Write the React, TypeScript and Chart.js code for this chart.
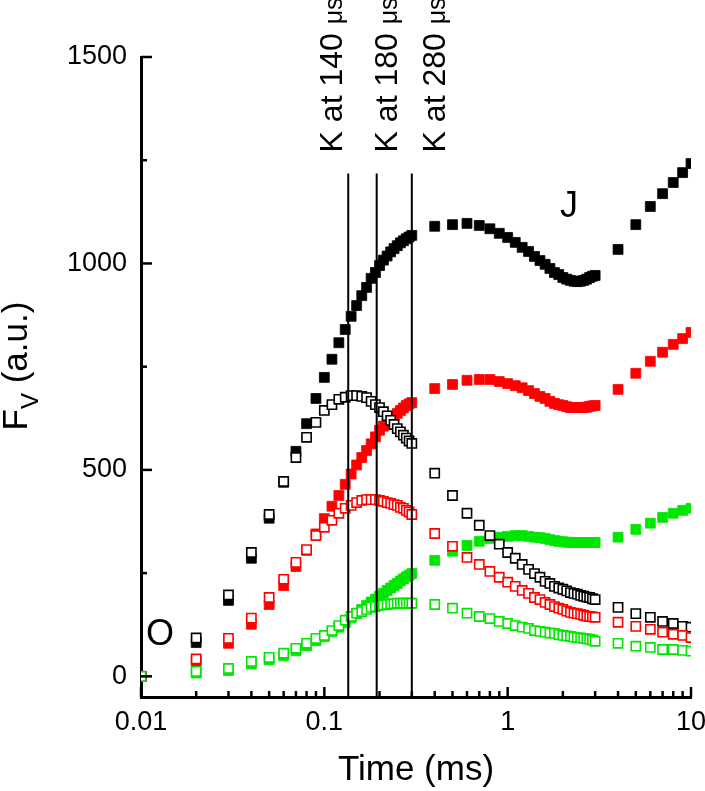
import React, { useEffect, useRef } from 'react';
import { Chart, registerables } from 'chart.js';

Chart.register(...registerables);

const FONT = '"Liberation Sans", Arial, Helvetica, sans-serif';

// Time points (ms)
const timeMs = [
  0.01, 0.02, 0.03, 0.04, 0.05, 0.06, 0.07, 0.08, 0.09, 0.10,
  0.11, 0.12, 0.13, 0.14, 0.15, 0.16, 0.17, 0.18, 0.19, 0.20,
  0.21, 0.22, 0.23, 0.24, 0.25, 0.26, 0.27, 0.28, 0.29, 0.30,
  0.4, 0.5, 0.6, 0.7, 0.8, 0.9, 1.0, 1.1, 1.2, 1.3,
  1.4, 1.5, 1.6, 1.7, 1.8, 1.9, 2.0, 2.1, 2.2, 2.3,
  2.4, 2.5, 2.6, 2.7, 2.8, 2.9, 3.0,
  4, 5, 6, 7, 8, 9, 10,
];

// Black filled squares
const blackFilled = [
  0, 82, 184, 286, 383, 470, 545, 612, 673, 724,
  768, 808, 840, 872, 898, 922, 942, 964, 978, 995,
  1008, 1018, 1028, 1036, 1043, 1050, 1055, 1060, 1064, 1068,
  1090, 1094, 1097, 1092, 1084, 1073, 1063, 1051, 1039, 1029,
  1017, 1007, 998, 988, 978, 973, 966, 962, 959, 957,
  956, 957, 959, 962, 966, 969, 971,
  1034, 1094, 1138, 1169, 1196, 1220, 1242,
];

// Black open squares
const blackOpen = [
  0, 93, 197, 300, 392, 472, 530, 579, 615, 644,
  658, 671, 676, 680, 680, 678, 675, 666, 658, 651,
  641, 631, 620, 610, 600, 592, 584, 577, 570, 564,
  492, 438, 395, 366, 341, 320, 300, 286, 271, 259,
  249, 240, 230, 225, 218, 214, 211, 207, 203, 201,
  199, 196, 194, 192, 191, 188, 186,
  167, 152, 143, 133, 128, 121, 119,
];

// Red filled squares
const redFilled = [
  0, 36, 80, 126, 174, 220, 266, 305, 345, 382,
  412, 438, 465, 490, 512, 530, 547, 563, 580, 596,
  606, 615, 623, 630, 637, 644, 650, 656, 660, 663,
  697, 707, 717, 719, 719, 714, 709, 704, 699, 692,
  685, 678, 673, 666, 661, 658, 656, 653, 651, 651,
  651, 651, 651, 652, 654, 655, 656,
  695, 734, 763, 785, 804, 818, 833,
];

// Red open squares
const redOpen = [
  0, 42, 92, 141, 191, 235, 276, 307, 341, 361,
  378, 395, 407, 414, 421, 426, 428, 428, 428, 426,
  424, 421, 419, 416, 414, 409, 407, 402, 398, 392,
  346, 315, 288, 271, 254, 240, 228, 218, 208, 201,
  191, 186, 179, 174, 169, 165, 162, 158, 155, 153,
  152, 150, 148, 146, 145, 144, 143,
  131, 121, 114, 107, 102, 99, 94,
];

// Green filled squares
const greenFilled = [
  0, 8, 14, 30, 40, 50, 62, 74, 86, 96,
  108, 119, 130, 142, 152, 162, 172, 180, 187, 194,
  201, 208, 214, 220, 225, 231, 236, 241, 245, 249,
  281, 303, 317, 327, 334, 337, 339, 341, 341, 339,
  337, 336, 334, 331, 329, 327, 326, 325, 324, 324,
  324, 324, 324, 324, 324, 324, 324,
  337, 356, 371, 385, 395, 402, 407,
];

// Green open squares
const greenOpen = [
  0, 12, 19, 36, 46, 56, 68, 80, 92, 99,
  111, 123, 136, 145, 153, 157, 162, 167, 169, 172,
  173, 174, 175, 176, 177, 177, 177, 177, 177, 177,
  174, 165, 153, 145, 140, 133, 128, 123, 119, 116,
  111, 109, 107, 105, 104, 101, 99, 98, 97, 95,
  94, 93, 92, 91, 90, 88, 85,
  80, 73, 70, 65, 65, 63, 61,
];

const xTickValues = [0.01, 0.1, 1, 10];
const xDecades = [0.01, 0.1, 1];
const yTickValues = [0, 500, 1000, 1500];
const yMinorValues = [250, 750, 1250];
const yMin = -50;
const yMax = 1500;

// K-step marker lines
const kLineTimes = [0.135, 0.193, 0.3];
const kLineTop = 1218;
const kLabelTexts = ['K at 140 ', 'K at 180 ', 'K at 280 '];
const kLabelUnit = 'μs';
const kLabelX = [0.125, 0.249, 0.456];
const kLabelY = 1269;

// Phase letters
const phaseLabels = [
  { text: 'O', x: 0.0127, y: 100 },
  { text: 'J', x: 2.16, y: 1137 },
];

const annotationPlugin = {
  id: 'ojipAnnotations',
  afterDraw(chart: any) {
    const { ctx, chartArea } = chart;
    const xs = chart.scales.x;
    const ys = chart.scales.y;
    ctx.save();
    ctx.strokeStyle = '#000';
    ctx.lineCap = 'butt';
    ctx.lineWidth = 2.5;
    const seg = (x1: number, y1: number, x2: number, y2: number) => {
      ctx.beginPath();
      ctx.moveTo(x1, y1);
      ctx.lineTo(x2, y2);
      ctx.stroke();
    };
    // y ticks (inward)
    for (const v of yTickValues) {
      const py = ys.getPixelForValue(v);
      seg(chartArea.left, py, chartArea.left + 11, py);
    }
    for (const v of yMinorValues) {
      const py = ys.getPixelForValue(v);
      seg(chartArea.left, py, chartArea.left + 6, py);
    }
    // x ticks (inward)
    for (const v of xTickValues) {
      const px = xs.getPixelForValue(v);
      seg(px, chartArea.bottom, px, chartArea.bottom - 10);
    }
    for (const d of xDecades) {
      for (let m = 2; m <= 9; m++) {
        const px = xs.getPixelForValue(m * d);
        seg(px, chartArea.bottom, px, chartArea.bottom - 6);
      }
    }

    ctx.fillStyle = '#000';
    ctx.textAlign = 'left';
    ctx.textBaseline = 'alphabetic';

    // y axis title F_V (a.u.)
    {
      const big = `35px ${FONT}`;
      const small = `24px ${FONT}`;
      ctx.font = big;
      const wF = ctx.measureText('F').width;
      const wRest = ctx.measureText(' (a.u.)').width;
      ctx.font = small;
      const wV = ctx.measureText('V').width;
      const total = wF + wV + wRest;
      const cy = (chartArea.top + chartArea.bottom) / 2 - 11;
      ctx.save();
      ctx.translate(27, cy);
      ctx.rotate(-Math.PI / 2);
      let sx = -total / 2;
      ctx.font = big;
      ctx.fillText('F', sx, 0);
      sx += wF;
      ctx.font = small;
      ctx.fillText('V', sx, 11);
      sx += wV;
      ctx.font = big;
      ctx.fillText(' (a.u.)', sx, 0);
      ctx.restore();
    }

    // K labels
    kLabelTexts.forEach((txt, i) => {
      const px = xs.getPixelForValue(kLabelX[i]);
      const py = ys.getPixelForValue(kLabelY);
      ctx.save();
      ctx.translate(px, py);
      ctx.rotate(-Math.PI / 2);
      ctx.font = `32px ${FONT}`;
      ctx.fillText(txt, 0, 0);
      const w = ctx.measureText(txt).width;
      ctx.font = `25px ${FONT}`;
      ctx.fillText(kLabelUnit, w, 0);
      ctx.restore();
    });

    // O / J labels
    ctx.textAlign = 'center';
    ctx.textBaseline = 'middle';
    ctx.font = `36px ${FONT}`;
    for (const p of phaseLabels) {
      ctx.fillText(p.text, xs.getPixelForValue(p.x), ys.getPixelForValue(p.y));
    }
    ctx.restore();
  },
};

export default function App() {
  const ref = useRef<HTMLCanvasElement>(null);

  useEffect(() => {
    const canvas = ref.current;
    if (!canvas) return;
    const pts = (vals: number[]) => timeMs.map((t, i) => ({ x: t, y: vals[i] }));
    const filled = (label: string, vals: number[], color: string, order: number) => ({
      label,
      data: pts(vals),
      showLine: false,
      pointStyle: 'rect',
      pointRadius: 7,
      pointBackgroundColor: color,
      pointBorderColor: color,
      pointBorderWidth: 0.8,
      backgroundColor: color,
      borderColor: color,
      order,
    });
    const open = (label: string, vals: number[], color: string, order: number) => ({
      label,
      data: pts(vals),
      showLine: false,
      pointStyle: 'rect',
      pointRadius: 6.5,
      pointBackgroundColor: '#ffffff',
      pointBorderColor: color,
      pointBorderWidth: 1.6,
      backgroundColor: '#ffffff',
      borderColor: color,
      order,
    });
    const kLines = kLineTimes.map((t, i) => ({
      label: 'K line ' + i,
      data: [
        { x: t, y: yMin },
        { x: t, y: kLineTop },
      ],
      showLine: true,
      borderColor: '#000',
      borderWidth: 2,
      pointRadius: 0,
      fill: false,
      order: 0,
    }));

    const chart = new Chart(canvas, {
      type: 'scatter',
      data: {
        datasets: [
          ...kLines,
          open('green open', greenOpen, '#00e600', 1),
          open('red open', redOpen, '#ff0000', 2),
          open('black open', blackOpen, '#000000', 3),
          filled('green filled', greenFilled, '#00e600', 4),
          filled('red filled', redFilled, '#ff0000', 5),
          filled('black filled', blackFilled, '#000000', 6),
        ] as any,
      },
      options: {
        responsive: false,
        animation: false,
        events: [],
        layout: { padding: { left: 0, right: 14, top: 57, bottom: 0 } },
        plugins: {
          legend: { display: false },
          tooltip: { enabled: false },
        },
        scales: {
          x: {
            type: 'logarithmic',
            position: 'bottom',
            min: 0.01,
            max: 10,
            grid: { display: false },
            border: { display: true, color: '#000', width: 3 },
            afterBuildTicks: (s: any) => {
              s.ticks = xTickValues.map((v) => ({ value: v }));
            },
            afterFit: (s: any) => {
              s.height = 94;
              s.paddingLeft = 0;
              s.paddingRight = 0;
            },
            ticks: {
              autoSkip: false,
              maxRotation: 0,
              minRotation: 0,
              color: '#000',
              padding: 1,
              font: { family: FONT, size: 27 },
              callback: (v: any) => String(v),
            },
            title: {
              display: true,
              text: 'Time (ms)',
              color: '#000',
              font: { family: FONT, size: 35 },
              padding: { top: 0, bottom: 0 },
            },
          },
          y: {
            type: 'linear',
            min: yMin,
            max: yMax,
            grid: { display: false },
            border: { display: true, color: '#000', width: 3 },
            afterBuildTicks: (s: any) => {
              s.ticks = yTickValues.map((v) => ({ value: v }));
            },
            afterFit: (s: any) => {
              s.width = 141;
              s.paddingTop = 0;
              s.paddingBottom = 0;
            },
            ticks: {
              color: '#000',
              padding: 6,
              font: { family: FONT, size: 27 },
              callback: (v: any) => String(v),
            },
          },
        },
      } as any,
      plugins: [annotationPlugin],
    });
    return () => chart.destroy();
  }, []);

  return (
    <div style={{ position: 'absolute', left: 0, top: 0, width: 705, height: 791, background: '#fff' }}>
      <canvas ref={ref} width={705} height={791} style={{ display: 'block', width: 705, height: 791 }} />
    </div>
  );
}
